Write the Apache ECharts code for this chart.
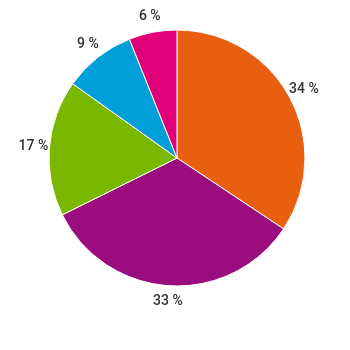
<!DOCTYPE html>
<html><head><meta charset="utf-8">
<script src="https://cdn.jsdelivr.net/npm/echarts@6/dist/echarts.min.js"></script>
<style>html,body{margin:0;padding:0;background:#fff}#c{width:350px;height:350px}</style>
</head><body><div id="c"></div>
<script>
const categories = ['A', 'B', 'C', 'D', 'E'];
const values = [34, 33, 17, 9, 6];
const colors = ['#E8600F', '#9B0D7F', '#7AB800', '#009FDA', '#E2007A'];
const chart = echarts.init(document.getElementById('c'));
chart.setOption({
  animation: false,
  series: [{
    type: 'pie',
    center: [177, 158],
    radius: 128,
    startAngle: 90,
    clockwise: true,
    data: categories.map((c, i) => ({ name: c, value: values[i], itemStyle: { color: colors[i] } })),
    itemStyle: { borderColor: '#fff', borderWidth: 1 },
    label: { show: false },
    labelLine: { show: false },
    emphasis: { disabled: true }
  }, {
    type: 'pie',
    center: [177, 158],
    radius: [132, 150],
    startAngle: 90,
    clockwise: true,
    silent: true,
    data: categories.map((c, i) => ({ name: c, value: values[i] })),
    itemStyle: { color: 'rgba(0,0,0,0)' },
    label: {
      show: true, position: 'inside', formatter: '{c} %', rotate: 0,
      fontFamily: 'Roboto', fontSize: 14, fontWeight: 500, color: '#333'
    },
    labelLine: { show: false },
    emphasis: { disabled: true }
  }]
});
</script></body></html>
